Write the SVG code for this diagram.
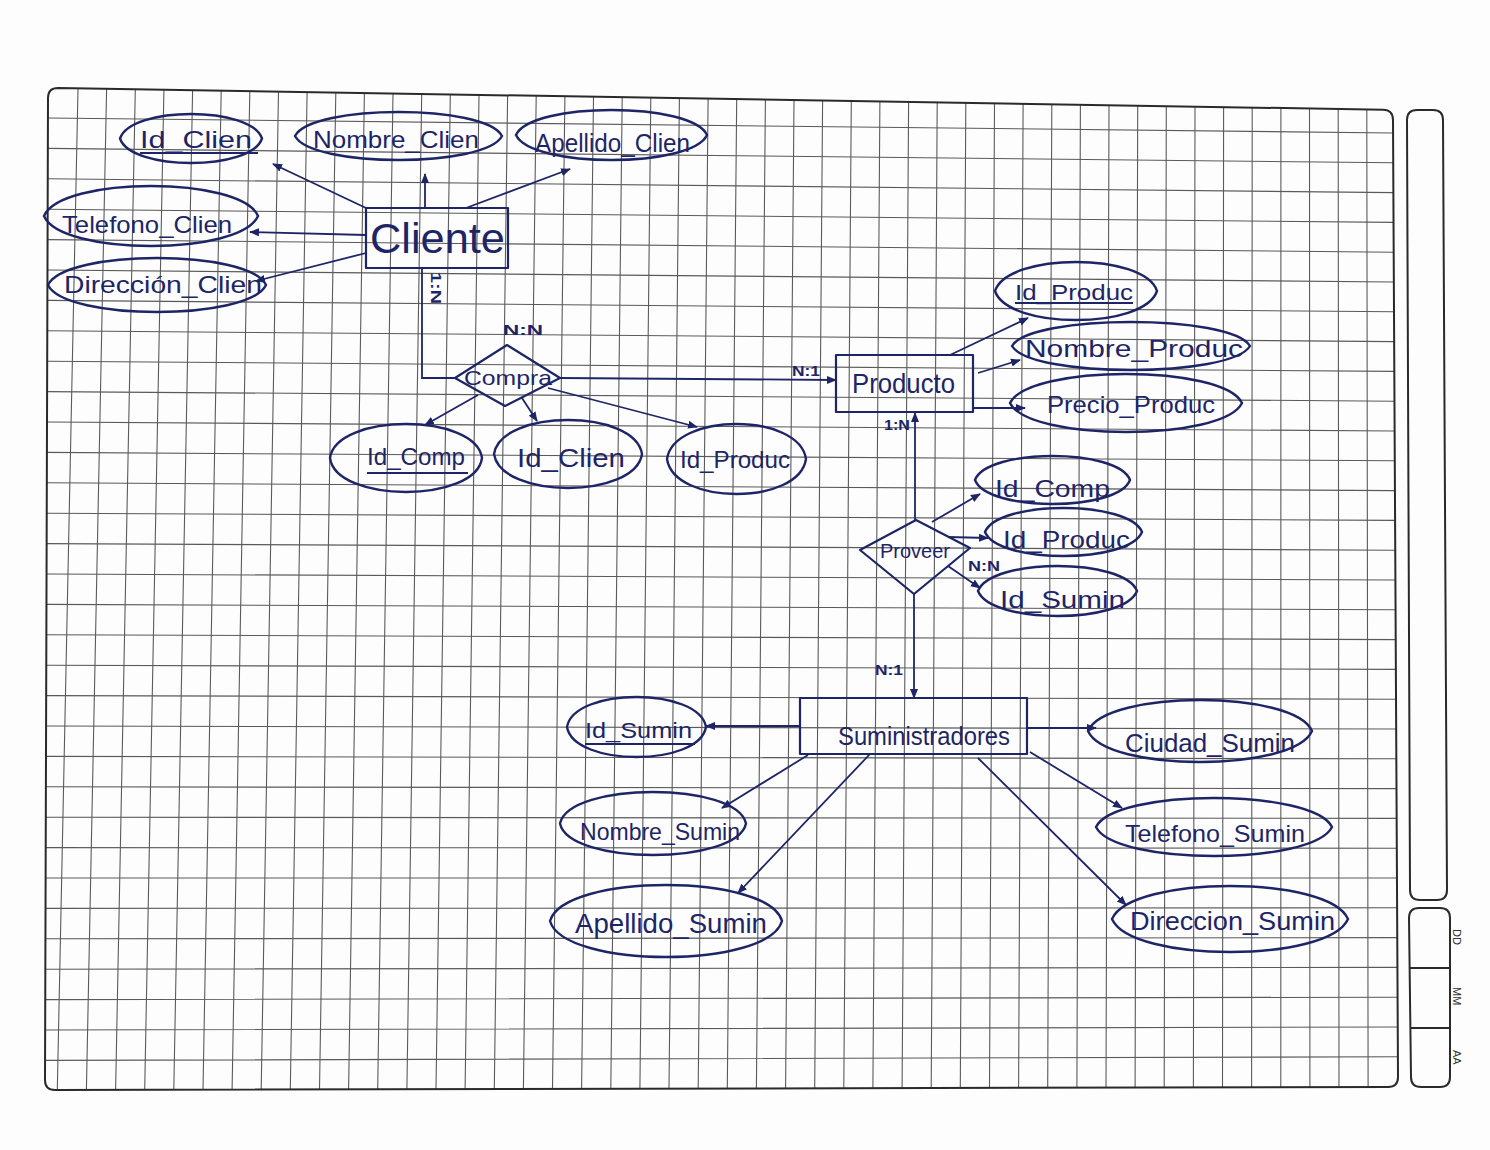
<svg xmlns="http://www.w3.org/2000/svg" width="1490" height="1150" viewBox="0 0 1490 1150">
<defs>
<style>
.grid{fill:none;stroke:#5a5a5a;stroke-width:1.1}
.border{fill:none;stroke:#2a2a2a;stroke-width:2}
.ink{fill:none;stroke:#1e2566;stroke-width:2.2;stroke-linejoin:round;stroke-linecap:round}
.attr{fill:none;stroke:#1e2566;stroke-width:2.4}
.con{fill:none;stroke:#1e2566;stroke-width:1.8}
.arr{marker-end:url(#ah)}
.t{font-family:"Liberation Sans",Arial,sans-serif;fill:#1e2566;font-size:24px}
.c{font-family:"Liberation Sans",Arial,sans-serif;fill:#1e2566;font-size:15px;font-weight:bold}
.p{font-family:"Liberation Sans",Arial,sans-serif;fill:#333;font-size:11px}
</style>
<marker id="ah" viewBox="0 0 10 10" refX="9" refY="5" markerWidth="10" markerHeight="10" markerUnits="userSpaceOnUse" orient="auto"><path d="M0,1 L10,5 L0,9 Z" fill="#1e2566"/></marker>
</defs>
<rect width="1490" height="1150" fill="#fdfdfd"/>
<g id="paper">
<path class="grid" d="M78,88.5L57.3,1090M106.6,88.9L86.4,1089.9M135.3,89.4L115.6,1089.8M163.9,89.9L144.7,1089.8M192.6,90.3L173.8,1089.7M221.2,90.8L203,1089.7M249.8,91.3L232.1,1089.6M278.5,91.7L261.2,1089.5M307.1,92.2L290.3,1089.5M335.8,92.7L319.5,1089.4M364.4,93.1L348.6,1089.3M393,93.6L377.7,1089.3M421.7,94.1L406.9,1089.2M450.3,94.5L436,1089.1M479,95L465.1,1089.1M507.6,95.4L494.3,1089M536.2,95.9L523.4,1088.9M564.9,96.4L552.5,1088.9M593.5,96.8L581.6,1088.8M622.2,97.3L610.8,1088.8M650.8,97.8L639.9,1088.7M679.4,98.2L669,1088.6M708.1,98.7L698.2,1088.6M736.7,99.2L727.3,1088.5M765.4,99.6L756.4,1088.4M794,100.1L785.6,1088.4M822.6,100.5L814.7,1088.3M851.3,101L843.8,1088.2M879.9,101.5L872.9,1088.2M908.6,101.9L902.1,1088.1M937.2,102.4L931.2,1088M965.8,102.9L960.3,1088M994.5,103.3L989.5,1087.9M1023.1,103.8L1018.6,1087.8M1051.8,104.3L1047.7,1087.8M1080.4,104.7L1076.9,1087.7M1109,105.2L1106,1087.7M1137.7,105.7L1135.1,1087.6M1166.3,106.1L1164.2,1087.5M1195,106.6L1193.4,1087.5M1223.6,107L1222.5,1087.4M1252.2,107.5L1251.6,1087.3M1280.9,108L1280.8,1087.3M1309.5,108.4L1309.9,1087.2M1338.2,108.9L1339,1087.1M1366.8,109.4L1368.1,1087.1"/>
<path class="grid" d="M47.9,118L1393.1,133M47.8,148.4L1393.3,162.8M47.7,178.8L1393.4,192.6M47.6,209.2L1393.6,222.4M47.5,239.6L1393.7,252.2M47.5,270L1393.9,282M47.4,300.4L1394,311.8M47.3,330.8L1394.2,341.6M47.2,361.2L1394.3,371.4M47.1,391.6L1394.5,401.2M47,422L1394.6,431M46.9,452.4L1394.8,460.8M46.8,482.8L1394.9,490.6M46.7,513.2L1395.1,520.4M46.6,543.6L1395.2,550.2M46.5,574L1395.4,580M46.4,604.4L1395.5,609.8M46.4,634.8L1395.7,639.6M46.3,665.2L1395.8,669.4M46.2,695.6L1396,699.2M46.1,726L1396.1,729M46,756.4L1396.3,758.8M45.9,786.8L1396.4,788.6M45.8,817.2L1396.6,818.4M45.7,847.6L1396.7,848.2M45.6,878L1396.9,878M45.5,908.4L1397,907.8M45.4,938.8L1397.2,937.6M45.3,969.2L1397.3,967.4M45.2,999.6L1397.5,997.2M45.2,1030L1397.6,1027M45.1,1060.4L1397.8,1056.8"/>
<path class="border" d="M58,88 L1383,109.7 Q1393,109.8 1393,120 L1398,1077 Q1398,1087 1388,1087 L55,1090 Q45,1090 45,1080 L48,98 Q48,88 58,88 Z"/>
<path class="border" d="M1417,110 L1433,110 Q1443,110 1443,120 L1447,890 Q1447,900 1437,900 L1420,900 Q1410,900 1410,890 L1407,120 Q1407,110 1417,110 Z"/>
<path class="border" d="M1419,908 L1440,908 Q1450,908 1450,918 L1450,1077 Q1450,1087 1440,1087 L1421,1087 Q1411,1087 1411,1077 L1409,918 Q1409,908 1419,908 Z M1410,968 L1450,968 M1410,1028 L1450,1028"/>
<text class="p" transform="translate(1453,929) rotate(90)">DD</text>
<text class="p" transform="translate(1453,987) rotate(90)">MM</text>
<text class="p" transform="translate(1453,1050) rotate(90)">AA</text>
</g>
<g id="connectors">
<path class="con arr" d="M366,208 L273,164"/>
<path class="con arr" d="M425,208 L425,174"/>
<path class="con arr" d="M466,208 L570,169"/>
<path class="con arr" d="M366,235 L250,232"/>
<path class="con arr" d="M366,253 L256,281"/>
<path class="con" d="M422,268 L422,378 L455,378"/>
<path class="con arr" d="M560,378 L836,380"/>
<path class="con arr" d="M478,395 L425,425"/>
<path class="con arr" d="M522,398 L537,421"/>
<path class="con arr" d="M548,388 L697,427"/>
<path class="con arr" d="M950,355 L1028,318"/>
<path class="con arr" d="M978,373 L1020,360"/>
<path class="con arr" d="M973,408 L1025,408"/>
<path class="con arr" d="M915,520 L915,413"/>
<path class="con arr" d="M932,522 L980,494"/>
<path class="con arr" d="M948,537 L988,538"/>
<path class="con arr" d="M948,566 L980,588"/>
<path class="con arr" d="M914,594 L914,698"/>
<path class="con arr" d="M800,726 L706,726"/>
<path class="con arr" d="M808,755 L722,808"/>
<path class="con arr" d="M870,754 L738,893"/>
<path class="con arr" d="M1027,728 L1096,728"/>
<path class="con arr" d="M1030,752 L1122,808"/>
<path class="con arr" d="M978,758 L1126,905"/>
<text class="c" transform="translate(431,272) rotate(90)" textLength="32" lengthAdjust="spacingAndGlyphs">1:N</text>
<text class="c" x="503" y="335" textLength="40" lengthAdjust="spacingAndGlyphs">N:N</text>
<text class="c" x="792" y="376" textLength="28" lengthAdjust="spacingAndGlyphs">N:1</text>
<text class="c" x="884" y="430" textLength="26" lengthAdjust="spacingAndGlyphs" style="font-size:14px">1:N</text>
<text class="c" x="968" y="571" textLength="32" lengthAdjust="spacingAndGlyphs" style="font-size:14px">N:N</text>
<text class="c" x="875" y="675" textLength="28" lengthAdjust="spacingAndGlyphs">N:1</text>
</g>
<g id="cliente">
<rect class="ink" x="366" y="208" width="142" height="60"/>
<text class="t" x="370" y="253" textLength="135" lengthAdjust="spacingAndGlyphs" style="font-size:42px">Cliente</text>
</g>
<g id="id_clien">
<path class="attr" d="M120,138.5 C131,105.8 251,105.8 262,138.5 C251,171.2 131,171.2 120,138.5 Z"/>
<text class="t" x="140" y="148" textLength="112" lengthAdjust="spacingAndGlyphs">Id_Clien</text>
<path class="con" d="M140,153 L258,153"/>
</g>
<g id="nombre_clien">
<path class="attr" d="M295,136 C311.6,104 485.4,104 502,136 C485.4,168 311.6,168 295,136 Z"/>
<text class="t" x="313" y="148" textLength="166" lengthAdjust="spacingAndGlyphs">Nombre_Clien</text>
</g>
<g id="apellido_clien">
<path class="attr" d="M516,135 C531.3,101.7 691.7,101.7 707,135 C691.7,168.3 531.3,168.3 516,135 Z"/>
<text class="t" x="535" y="152" textLength="155" lengthAdjust="spacingAndGlyphs" style="font-size:26px">Apellido_Clien</text>
</g>
<g id="telefono_clien">
<path class="attr" d="M44,216 C61,176 241,176 258,216 C241,256 61,256 44,216 Z"/>
<text class="t" x="62" y="233" textLength="170" lengthAdjust="spacingAndGlyphs">Telefono_Clien</text>
</g>
<g id="direccion_clien">
<path class="attr" d="M48,285 C65.4,249 248.6,249 266,285 C248.6,321 65.4,321 48,285 Z"/>
<text class="t" x="64" y="293" textLength="198" lengthAdjust="spacingAndGlyphs">Dirección_Clien</text>
</g>
<g id="compra">
<path class="ink" d="M455,378 L507,345 L560,378 L505,406 Z"/>
<text class="t" x="464" y="385" textLength="88" lengthAdjust="spacingAndGlyphs" style="font-size:21px">Compra</text>
</g>
<g id="compra_id_comp">
<path class="attr" d="M330,458 C336,412.7 476,412.7 482,458 C476,503.3 336,503.3 330,458 Z"/>
<text class="t" x="367" y="465" textLength="98" lengthAdjust="spacingAndGlyphs">Id_Comp</text>
<path class="con" d="M367,473 L468,473"/>
</g>
<g id="compra_id_clien">
<path class="attr" d="M494,454 C501,408.7 635,408.7 642,454 C635,499.3 501,499.3 494,454 Z"/>
<text class="t" x="517" y="467" textLength="108" lengthAdjust="spacingAndGlyphs" style="font-size:25px">Id_Clien</text>
</g>
<g id="compra_id_produc">
<path class="attr" d="M667,459 C674,412.3 799,412.3 806,459 C799,505.7 674,505.7 667,459 Z"/>
<text class="t" x="680" y="468" textLength="110" lengthAdjust="spacingAndGlyphs">Id_Produc</text>
</g>
<g id="producto">
<rect class="ink" x="836" y="355" width="137" height="57"/>
<text class="t" x="852" y="393" textLength="103" lengthAdjust="spacingAndGlyphs" style="font-size:28px">Producto</text>
</g>
<g id="id_produc">
<path class="attr" d="M995,291 C1008,252.3 1144,252.3 1157,291 C1144,329.7 1008,329.7 995,291 Z"/>
<text class="t" x="1015" y="300" textLength="118" lengthAdjust="spacingAndGlyphs" style="font-size:22px">Id_Produc</text>
<path class="con" d="M1015,303 L1133,303"/>
</g>
<g id="nombre_produc">
<path class="attr" d="M1012,346 C1031,314 1231,314 1250,346 C1231,378 1031,378 1012,346 Z"/>
<text class="t" x="1025" y="357" textLength="218" lengthAdjust="spacingAndGlyphs">Nombre_Produc</text>
</g>
<g id="precio_produc">
<path class="attr" d="M1010,403 C1028.6,364.3 1223.4,364.3 1242,403 C1223.4,441.7 1028.6,441.7 1010,403 Z"/>
<text class="t" x="1047" y="413" textLength="168" lengthAdjust="spacingAndGlyphs">Precio_Produc</text>
</g>
<g id="proveer">
<path class="ink" d="M860,550 L916,520 L970,548 L914,594 Z"/>
<text class="t" x="880" y="558" textLength="70" lengthAdjust="spacingAndGlyphs" style="font-size:20px">Proveer</text>
</g>
<g id="proveer_id_comp">
<path class="attr" d="M975,480 C987,448 1118,448 1130,480 C1118,512 987,512 975,480 Z"/>
<text class="t" x="995" y="497" textLength="115" lengthAdjust="spacingAndGlyphs">Id_Comp</text>
</g>
<g id="proveer_id_produc">
<path class="attr" d="M985,532 C998,500 1129,500 1142,532 C1129,564 998,564 985,532 Z"/>
<text class="t" x="1003" y="548" textLength="127" lengthAdjust="spacingAndGlyphs">Id_Produc</text>
</g>
<g id="proveer_id_sumin">
<path class="attr" d="M978,591 C991,557.7 1124,557.7 1137,591 C1124,624.3 991,624.3 978,591 Z"/>
<text class="t" x="1000" y="608" textLength="125" lengthAdjust="spacingAndGlyphs">Id_Sumin</text>
</g>
<g id="suministradores">
<rect class="ink" x="800" y="698" width="227" height="56"/>
<text class="t" x="838" y="745" textLength="172" lengthAdjust="spacingAndGlyphs" style="font-size:26px">Suministradores</text>
</g>
<g id="id_sumin">
<path class="attr" d="M567,727 C574,687 699,687 706,727 C699,767 574,767 567,727 Z"/>
<text class="t" x="585" y="738" textLength="107" lengthAdjust="spacingAndGlyphs" style="font-size:22px">Id_Sumin</text>
<path class="con" d="M585,744 L695,744"/>
</g>
<g id="nombre_sumin">
<path class="attr" d="M560,823.5 C569,781.5 737,781.5 746,823.5 C737,865.5 569,865.5 560,823.5 Z"/>
<text class="t" x="580" y="840" textLength="160" lengthAdjust="spacingAndGlyphs">Nombre_Sumin</text>
</g>
<g id="apellido_sumin">
<path class="attr" d="M550,921 C564,873 768,873 782,921 C768,969 564,969 550,921 Z"/>
<text class="t" x="575" y="933" textLength="192" lengthAdjust="spacingAndGlyphs" style="font-size:28px">Apellido_Sumin</text>
</g>
<g id="ciudad_sumin">
<path class="attr" d="M1088,731 C1106,689.7 1294,689.7 1312,731 C1294,772.3 1106,772.3 1088,731 Z"/>
<text class="t" x="1125" y="752" textLength="170" lengthAdjust="spacingAndGlyphs" style="font-size:26px">Ciudad_Sumin</text>
</g>
<g id="telefono_sumin">
<path class="attr" d="M1096,827 C1115,788.3 1313,788.3 1332,827 C1313,865.7 1115,865.7 1096,827 Z"/>
<text class="t" x="1125" y="842" textLength="180" lengthAdjust="spacingAndGlyphs">Telefono_Sumin</text>
</g>
<g id="direccion_sumin">
<path class="attr" d="M1112,919 C1131,875 1329,875 1348,919 C1329,963 1131,963 1112,919 Z"/>
<text class="t" x="1130" y="930" textLength="205" lengthAdjust="spacingAndGlyphs" style="font-size:26px">Direccion_Sumin</text>
</g>
</svg>
